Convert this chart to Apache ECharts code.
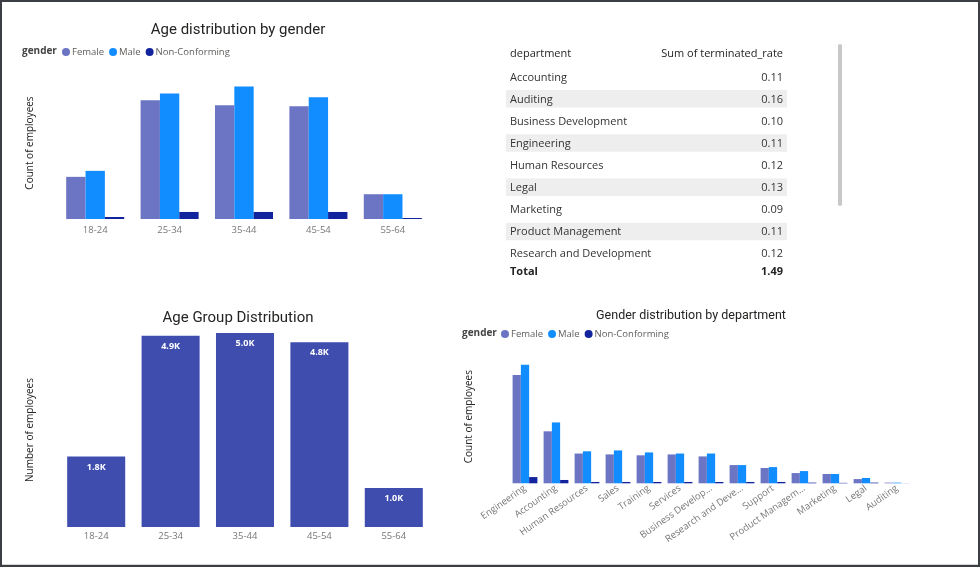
<!DOCTYPE html>
<html>
<head>
<meta charset="utf-8">
<script src="https://cdn.jsdelivr.net/npm/echarts@6/dist/echarts.min.js"></script>
<style>
html,body{margin:0;padding:0;background:#fff;}
#chart{position:absolute;left:0;top:0;width:980px;height:567px;}
#frame{position:absolute;left:0;top:0;width:980px;height:567px;box-sizing:border-box;border-left:2px solid #3b3e42;border-top:2px solid #3b3e42;border-right:2px solid #3b3e42;border-bottom:2px solid #3b3e42;pointer-events:none;}
#frame:after{content:"";position:absolute;left:0;right:0;bottom:0;height:1px;background:#d6d6d6;}
</style>
</head>
<body>
<div id="chart"></div>
<div id="frame"></div>
<script>
// ---- data ----
const ageGroups = ['18-24', '25-34', '35-44', '45-54', '55-64'];
const femaleByAge = [832, 2342, 2243, 2224, 489];
const maleByAge = [950, 2475, 2614, 2402, 489];
const nonConfByAge = [40, 139, 139, 139, 20];
const ageTotals = [1820, 4940, 5010, 4770, 1010];

const departments = ['Engineering', 'Accounting', 'Human Resources', 'Sales', 'Training', 'Services',
  'Business Development', 'Research and Development', 'Support', 'Product Management', 'Marketing', 'Legal', 'Auditing'];
const femaleByDept = [2440, 1170, 670, 650, 630, 650, 605, 410, 345, 230, 210, 95, 15];
const maleByDept = [2670, 1370, 720, 740, 695, 670, 670, 410, 365, 275, 210, 120, 15];
const nonConfByDept = [140, 75, 30, 30, 30, 30, 30, 30, 30, 15, 10, 15, 2];

const tableDepartments = ['Accounting', 'Auditing', 'Business Development', 'Engineering', 'Human Resources',
  'Legal', 'Marketing', 'Product Management', 'Research and Development'];
const terminatedRates = [0.11, 0.16, 0.10, 0.11, 0.12, 0.13, 0.09, 0.11, 0.12];
const terminatedTotal = 1.49;

const genders = ['Female', 'Male', 'Non-Conforming'];

// ---- styles ----
const C_F = '#6B75C4', C_M = '#118DFF', C_N = '#12239E', C_AGE = '#3F4DAF';
const FONT = "'Segoe UI', 'Open Sans', 'Noto Sans', sans-serif";
const TFONT = "Roboto, 'Noto Sans', sans-serif";
const TXT = '#252423', SUB = '#605E5C';

const chart = echarts.init(document.getElementById('chart'), null, {renderer: 'canvas'});

// table graphic built from the arrays
const graphic = [];
graphic.push({type: 'text', x: 510, y: 53.5, style: {text: 'department', font: '11px ' + FONT, fill: TXT, textVerticalAlign: 'middle'}});
graphic.push({type: 'text', x: 783, y: 53.5, style: {text: 'Sum of terminated_rate', font: '11px ' + FONT, fill: TXT, textAlign: 'right', textVerticalAlign: 'middle'}});
tableDepartments.forEach((d, i) => {
  const cy = 77.5 + i * 22.1;
  if (i % 2 === 1) {
    graphic.push({type: 'rect', shape: {x: 506, y: cy - 9.5, width: 281, height: 17.5}, style: {fill: '#EEEEEE'}, z: -1});
  }
  graphic.push({type: 'text', x: 510, y: cy, style: {text: d, font: '11px ' + FONT, fill: '#333333', textVerticalAlign: 'middle'}});
  graphic.push({type: 'text', x: 783, y: cy, style: {text: terminatedRates[i].toFixed(2), font: '11px ' + FONT, fill: '#333333', textAlign: 'right', textVerticalAlign: 'middle'}});
});
graphic.push({type: 'text', x: 510, y: 271.5, style: {text: 'Total', font: 'bold 11px ' + FONT, fill: TXT, textVerticalAlign: 'middle'}});
graphic.push({type: 'text', x: 783, y: 271.5, style: {text: terminatedTotal.toFixed(2), font: 'bold 11px ' + FONT, fill: TXT, textAlign: 'right', textVerticalAlign: 'middle'}});
graphic.push({type: 'rect', shape: {x: 838, y: 44, width: 4, height: 162, r: 2}, style: {fill: '#C8C8C8'}});
// legend captions
graphic.push({type: 'text', x: 22, y: 51, style: {text: 'gender', font: 'bold 10px ' + FONT, fill: '#444', textVerticalAlign: 'middle'}});
graphic.push({type: 'text', x: 462, y: 333, style: {text: 'gender', font: 'bold 10px ' + FONT, fill: '#444', textVerticalAlign: 'middle'}});

const legendBase = {
  data: genders, icon: 'circle', itemWidth: 8, itemHeight: 8, itemGap: 5,
  textStyle: {fontFamily: FONT, fontSize: 9.5, color: SUB, padding: [0, 0, 0, -3]}
};

function catAxis(gi, data, extra) {
  return Object.assign({
    type: 'category', gridIndex: gi, data: data,
    axisLine: {show: false}, axisTick: {show: false},
    axisLabel: {color: '#777', fontFamily: FONT, fontSize: 9.5, margin: 6}
  }, extra || {});
}
function valAxis(gi, name, gap, max) {
  return {
    type: 'value', gridIndex: gi, min: 0, max: max, name: name, nameLocation: 'middle', nameGap: gap,
    nameTextStyle: {color: TXT, fontFamily: FONT, fontSize: 10},
    axisLabel: {show: false}, axisLine: {show: false}, axisTick: {show: false}, splitLine: {show: false}
  };
}

const option = {
  animation: false,
  backgroundColor: '#fff',
  title: [
    {text: 'Age distribution by gender', left: 233, top: 18, textAlign: 'center', textStyle: {fontFamily: TFONT, fontSize: 15, fontWeight: 'normal', color: TXT}},
    {text: 'Age Group Distribution', left: 233, top: 306, textAlign: 'center', textStyle: {fontFamily: TFONT, fontSize: 15, fontWeight: 'normal', color: TXT}},
    {text: 'Gender distribution by department', left: 686, top: 304, textAlign: 'center', textStyle: {fontFamily: TFONT, fontSize: 12.5, fontWeight: 'normal', color: TXT}}
  ],
  legend: [
    Object.assign({left: 57, top: 42}, legendBase),
    Object.assign({left: 496, top: 324}, legendBase)
  ],
  graphic: graphic,
  grid: [
    {left: 58, top: 67, width: 372, height: 152},
    {left: 59, top: 333, width: 372, height: 194},
    {left: 509.5, top: 350, width: 403, height: 133.3}
  ],
  xAxis: [
    catAxis(0, ageGroups),
    catAxis(1, ageGroups, {axisLabel: {color: '#777', fontFamily: FONT, fontSize: 9.5, margin: 4}}),
    catAxis(2, departments, {axisLabel: {color: '#777', fontFamily: FONT, fontSize: 9.5, margin: 4, rotate: 35, interval: 0,
      width: 94, overflow: 'truncate', ellipsis: '...'}})
  ],
  yAxis: [
    valAxis(0, 'Count of employees', 23, 3000),
    valAxis(1, 'Number of employees', 24, 'dataMax'),
    valAxis(2, 'Count of employees', 35, 3000)
  ],
  series: [
    {name: 'Female', type: 'bar', xAxisIndex: 0, yAxisIndex: 0, data: femaleByAge, itemStyle: {color: C_F}, barGap: '0%', barCategoryGap: '22%'},
    {name: 'Male', type: 'bar', xAxisIndex: 0, yAxisIndex: 0, data: maleByAge, itemStyle: {color: C_M}, barGap: '0%', barCategoryGap: '22%'},
    {name: 'Non-Conforming', type: 'bar', xAxisIndex: 0, yAxisIndex: 0, data: nonConfByAge, itemStyle: {color: C_N}, barGap: '0%', barCategoryGap: '22%'},
    {name: 'Total', type: 'bar', xAxisIndex: 1, yAxisIndex: 1, data: ageTotals, itemStyle: {color: C_AGE}, barCategoryGap: '22%',
      label: {show: true, position: 'insideTop', distance: 6, color: '#fff', fontFamily: FONT, fontSize: 9, fontWeight: 'bold',
        formatter: p => (p.value / 1000).toFixed(1) + 'K'}},
    {name: 'Female', type: 'bar', xAxisIndex: 2, yAxisIndex: 2, data: femaleByDept, itemStyle: {color: C_F}, barGap: '0%', barCategoryGap: '20%'},
    {name: 'Male', type: 'bar', xAxisIndex: 2, yAxisIndex: 2, data: maleByDept, itemStyle: {color: C_M}, barGap: '0%', barCategoryGap: '20%'},
    {name: 'Non-Conforming', type: 'bar', xAxisIndex: 2, yAxisIndex: 2, data: nonConfByDept, itemStyle: {color: C_N}, barGap: '0%', barCategoryGap: '20%'}
  ]
};
chart.setOption(option);
</script>
</body>
</html>
